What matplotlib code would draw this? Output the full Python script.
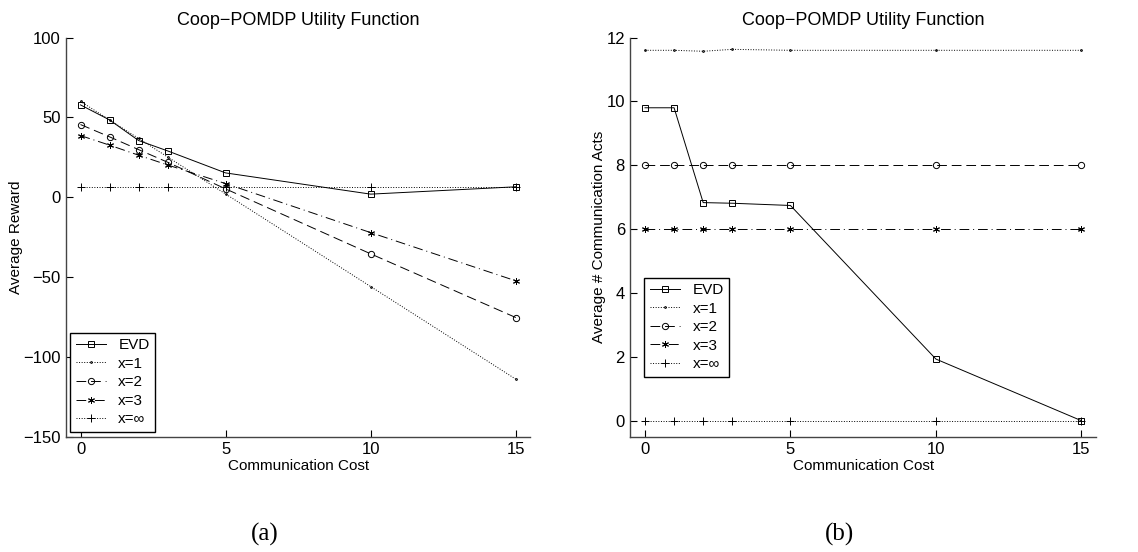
import numpy as np
import matplotlib.pyplot as plt

plt.rcParams['font.family'] = ['Liberation Sans', 'DejaVu Sans']

cost = [0, 1, 2, 3, 5, 10, 15]
labels = ['EVD', 'x=1', 'x=2', 'x=3', 'x=\u221e']

# (a) average reward
reward_evd = [57.8, 48.4, 35.5, 29.0, 15.2, 1.9, 6.5]
reward_x1 = [60.0, 48.4, 36.8, 25.2, 2.0, -56.0, -114.0]
reward_x2 = [45.5, 37.8, 29.8, 21.9, 5.2, -35.5, -75.4]
reward_x3 = [38.6, 32.6, 26.3, 20.2, 8.5, -22.2, -52.4]
reward_xinf = [6.4, 6.4, 6.4, 6.4, 6.4, 6.4, 6.4]

# (b) average number of communication acts
acts_evd = [9.8, 9.8, 6.83, 6.81, 6.74, 1.93, 0.0]
acts_x1 = [11.6, 11.6, 11.57, 11.63, 11.6, 11.6, 11.6]
acts_x2 = [8, 8, 8, 8, 8, 8, 8]
acts_x3 = [6, 6, 6, 6, 6, 6, 6]
acts_xinf = [0, 0, 0, 0, 0, 0, 0]

styles = [
    dict(ls='-', marker='s', ms=4),
    dict(ls=':', marker='.', ms=2.5),
    dict(ls=(0, (10, 5)), marker='o', ms=4.5),
    dict(ls=(0, (10, 4, 1, 4)), marker=(6, 2, 0), ms=5),
    dict(ls=':', marker='+', ms=6),
]

fig = plt.figure(figsize=(11.38, 5.52), dpi=100)
ax1 = fig.add_axes([0.058, 0.209, 0.408, 0.723])
ax2 = fig.add_axes([0.554, 0.209, 0.409, 0.723])


def draw(ax, series, ylim, yticks, ylabel, loc_box):
    for ys, st, lab in zip(series, styles, labels):
        ax.plot(cost, ys, color='black', lw=0.7, ls=st['ls'], marker=st['marker'],
                ms=st['ms'], mfc='none', mec='black', mew=0.7, label=lab)
    ax.set_xlim(-0.5, 15.5)
    ax.set_ylim(*ylim)
    ax.set_xticks([0, 5, 10, 15])
    ax.set_yticks(yticks)
    ax.spines['top'].set_visible(False)
    ax.spines['right'].set_visible(False)
    for s in ('left', 'bottom'):
        ax.spines[s].set_linewidth(1.0)
        ax.spines[s].set_color('#444444')
    ax.tick_params(direction='in', length=5, width=0.8, labelsize=12, pad=4)
    ax.set_xlabel('Communication Cost', fontsize=11, labelpad=1)
    ax.set_ylabel(ylabel, fontsize=11, labelpad=0)
    ax.set_title('Coop\u2212POMDP Utility Function', fontsize=13, pad=9)
    leg = ax.legend(loc='lower left', bbox_to_anchor=loc_box, fontsize=11,
                    handlelength=2.0, handletextpad=0.8, labelspacing=0.3,
                    borderpad=0.35, borderaxespad=0, fancybox=False, framealpha=1)
    leg.get_frame().set_edgecolor('black')
    leg.get_frame().set_linewidth(1.0)


draw(ax1, [reward_evd, reward_x1, reward_x2, reward_x3, reward_xinf],
     (-150, 100), [-150, -100, -50, 0, 50, 100], 'Average Reward', (0.009, 0.012))
draw(ax2, [acts_evd, acts_x1, acts_x2, acts_x3, acts_xinf],
     (-0.5, 12), [0, 2, 4, 6, 8, 10, 12], 'Average # Communication Acts', (0.03, 0.15))

fig.text(0.233, 0.02, '(a)', family='Liberation Serif', fontsize=18, ha='center')
fig.text(0.738, 0.02, '(b)', family='Liberation Serif', fontsize=18, ha='center')

fig.savefig('out.png', dpi=100)
